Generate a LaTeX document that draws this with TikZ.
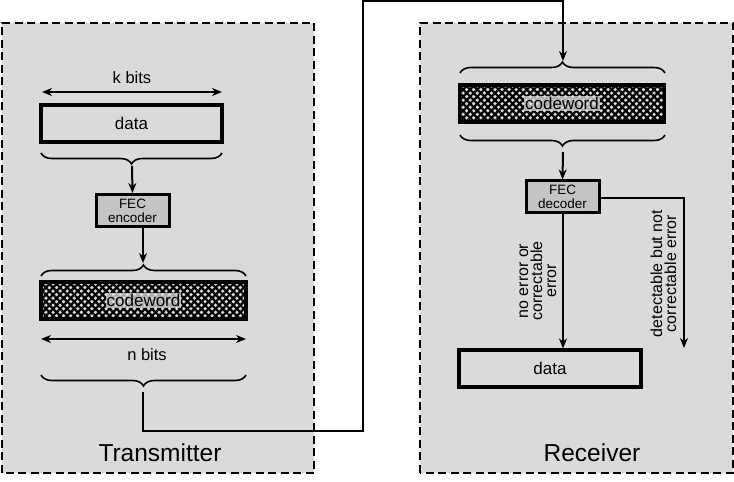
\documentclass[tikz,border=0pt]{standalone}
\usepackage{fontspec}
\setmainfont{Liberation Sans}
\usetikzlibrary{arrows.meta,patterns.meta,decorations.pathreplacing}
\definecolor{panelgray}{RGB}{218,218,218}
\definecolor{fecgray}{RGB}{196,196,196}
\begin{document}
\begin{tikzpicture}[x=1pt,y=1pt,
  panel/.style={draw=black,fill=panelgray,line width=2.6pt,dash pattern=on 8pt off 4.5pt},
  databox/.style={draw=black,line width=3.1pt,minimum width=181pt,minimum height=37pt,inner sep=0pt,font=\fontsize{17}{19}\selectfont},
  cwbox/.style={draw=black,line width=3.1pt,minimum width=205pt,minimum height=37pt,inner sep=0pt,
    postaction={pattern={Lines[angle=45,distance=5pt,line width=2.2pt]}},
    postaction={pattern={Lines[angle=-45,distance=5pt,line width=2.2pt]}}},
  cwlabel/.style={fill=panelgray,fill opacity=0.8,text opacity=1,inner sep=1pt,font=\fontsize{17}{19}\selectfont},
  fecbox/.style={draw=black,fill=fecgray,line width=3pt,minimum width=73pt,minimum height=32pt,inner sep=0pt,align=center,font=\fontsize{13.5}{14}\selectfont},
  conn/.style={line width=2pt,-{Stealth[length=10pt,width=8pt]}},
  dim/.style={line width=2pt,{Stealth[length=10pt,width=8pt]}-{Stealth[length=10pt,width=8pt]}},
  bracedeco/.style={line width=1.6pt,decorate,decoration={brace,amplitude=11pt}},
  lbl/.style={font=\fontsize{16.5}{18}\selectfont,inner sep=0pt},
  rotlbl/.style={rotate=90,align=center,inner sep=0pt,font=\fontsize{16}{14}\selectfont},
  title/.style={font=\fontsize{24.5}{26}\selectfont,inner sep=0pt}]
\useasboundingbox (0,0) rectangle (734,482);
% panels
\draw[panel] (2,9) rectangle (314,459);
\draw[panel] (420,9) rectangle (733,459);
% transmitter
\coordinate (kL) at (42,390); \coordinate (kR) at (222,390);
\draw[dim] (kL) -- (kR);
\node[lbl] (kbits) at (132,404) {k bits};
\node[databox] (tdata) at (131.5,358.5) {data};
\draw[bracedeco] (222,329) -- (41,329);
\coordinate (tb1tip) at (132,316);
\node[fecbox] (enc) at (132.5,271.5) {FEC\\encoder};
\draw[conn] (tb1tip) -- (enc.north);
\coordinate (encout) at (143,254);
\coordinate (tb2tip) at (143,219);
\draw[conn] (encout) -- (tb2tip);
\draw[bracedeco] (41,206) -- (246,206);
\node[cwbox] (tcw) at (143.5,181.5) {};
\node[cwlabel] (tcwl) at (tcw.center) {codeword};
\coordinate (nL) at (41,143); \coordinate (nR) at (246,143);
\draw[dim] (nL) -- (nR);
\node[lbl] (nbits) at (147,127) {n bits};
\draw[bracedeco] (246,107) -- (41,107);
\coordinate (ttip) at (143,90);
\coordinate (c1) at (143,51);
\coordinate (c2) at (363,51);
\coordinate (c3) at (363,481);
\coordinate (c4) at (563,481);
\coordinate (rtip) at (563,421);
\draw[conn] (ttip) -- (c1) -- (c2) -- (c3) -- (c4) -- (rtip);
\node[title] (tx) at (160,29) {Transmitter};
% receiver
\draw[bracedeco] (460,409) -- (665,409);
\node[cwbox] (rcw) at (562,378.5) {};
\node[cwlabel] (rcwl) at (rcw.center) {codeword};
\draw[bracedeco] (665,347) -- (460,347);
\coordinate (rb2tip) at (563,330);
\node[fecbox] (dec) at (562.5,285) {FEC\\decoder};
\draw[conn] (rb2tip) -- (dec.north);
\node[databox,minimum width=182pt] (rdata) at (550,113.5) {data};
\draw[conn] (dec.south -| rb2tip) -- (rdata.north -| rb2tip);
\coordinate (bend) at (684,284);
\coordinate (fail) at (684,134);
\draw[conn] (dec.east |- bend) -- (bend) -- (fail);
\node[rotlbl] (okl) at (538,201) {no error or\\correctable\\error};
\node[rotlbl] (faill) at (663.5,208.5) {detectable but not\\correctable error};
\node[title] (rx) at (592,29) {Receiver};
\end{tikzpicture}
\end{document}
